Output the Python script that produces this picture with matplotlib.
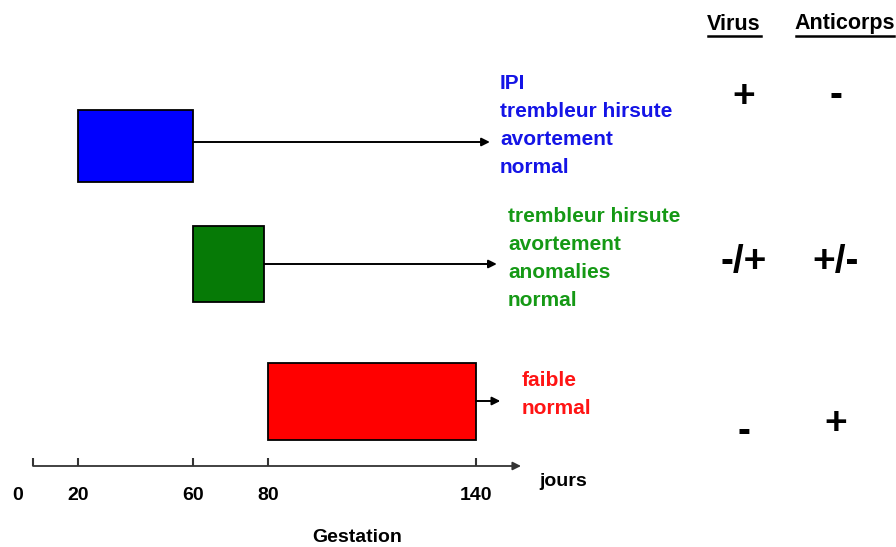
import numpy as np
import matplotlib
matplotlib.use("Agg")
import matplotlib.pyplot as plt
from matplotlib.lines import Line2D

plt.rcParams['font.family'] = ['Liberation Sans', 'DejaVu Sans']
plt.rcParams['font.weight'] = 'bold'

# données
tick_days = [0, 20, 60, 80, 140]
tick_labels = ['0', '20', '60', '80', '140']
starts = [20, 60, 80]
ends = [60, 79, 140]
arrow_end = [144, 146, 147]
bar_colors = ['#0000ff', '#067a06', '#ff0000']
text_colors = ['#1414e6', '#159915', '#ff1414']
effects = [
    ['IPI', 'trembleur hirsute', 'avortement', 'normal'],
    ['trembleur hirsute', 'avortement', 'anomalies', 'normal'],
    ['faible', 'normal'],
]
virus = ['+', '-/+', '-']
anticorps = ['-', '+/-', '+']

# mise en page (axe dessiné à la main, pas linéaire)
W, H = 896, 547
tick_px = [33, 78, 193, 268, 476]
knots_d = [-100] + tick_days + [400]
knots_p = [33 - 100 * 2.25] + tick_px + [476 + 260 * 3.47]
fwd = lambda x: np.interp(x, knots_d, knots_p)
inv = lambda p: np.interp(p, knots_p, knots_d)

row_y = [146, 264, 401]
bar_h = [72, 76, 77]
text_x = [500, 508, 522]
text_y0 = [83, 217, 380]
sign_y = [[97, 96], [262, 262], [432, 424]]
axis_y = 466

fig = plt.figure(figsize=(W / 100, H / 100), dpi=100)
ax = fig.add_axes([0, 0, 1, 1])
ax.set_xscale('function', functions=(fwd, inv))
ax.set_xlim(float(inv(0)), float(inv(W)))
ax.set_ylim(H, 0)
ax.axis('off')

# barres + flèches
for i in range(3):
    ax.barh(row_y[i], ends[i] - starts[i], left=starts[i], height=bar_h[i],
            color=bar_colors[i], edgecolor='black', linewidth=1.3)
    y = row_y[i] - 4 if i == 0 else row_y[i]
    ax.annotate('', xy=(arrow_end[i], y), xytext=(ends[i], y),
                arrowprops=dict(arrowstyle='-|>', color='black', lw=1.4,
                                mutation_scale=12, shrinkA=0, shrinkB=0))

# axe du temps
ax.annotate('', xy=(float(inv(521)), axis_y), xytext=(0, axis_y),
            arrowprops=dict(arrowstyle='-|>', color='#333333', lw=1.3,
                            mutation_scale=12, shrinkA=0, shrinkB=0))
ax.vlines(tick_days, axis_y - 8, axis_y, color='#333333', lw=1.5)
for d, lab in zip(tick_days, tick_labels):
    dx = -15 if d == 0 else 0
    ax.annotate(lab, xy=(d, 496), xytext=(dx * 0.72, 0), textcoords='offset points',
                ha='center', va='center', fontsize=14)
fig.text(563 / W, 1 - 482 / H, 'jours', ha='center', va='center', fontsize=14)
fig.text(357 / W, 1 - 537 / H, 'Gestation', ha='center', va='center', fontsize=14)

# effets
for i in range(3):
    for j, line in enumerate(effects[i]):
        fig.text(text_x[i] / W, 1 - (text_y0[i] + 28 * j) / H, line, color=text_colors[i],
                 ha='left', va='center', fontsize=15)

# virus / anticorps
for x, head, x0, x1 in [(734, 'Virus', 708, 761), (845, 'Anticorps', 796, 894)]:
    fig.text(x / W, 1 - 24 / H, head, ha='center', va='center', fontsize=15.5)
    fig.add_artist(Line2D([x0 / W, x1 / W], [1 - 36 / H, 1 - 36 / H], color='black', lw=1.8))
for i in range(3):
    fig.text(744 / W, 1 - sign_y[i][0] / H, virus[i], ha='center', va='center', fontsize=28)
    fig.text(836 / W, 1 - sign_y[i][1] / H, anticorps[i], ha='center', va='center', fontsize=28)

fig.savefig('out.png', dpi=100)
